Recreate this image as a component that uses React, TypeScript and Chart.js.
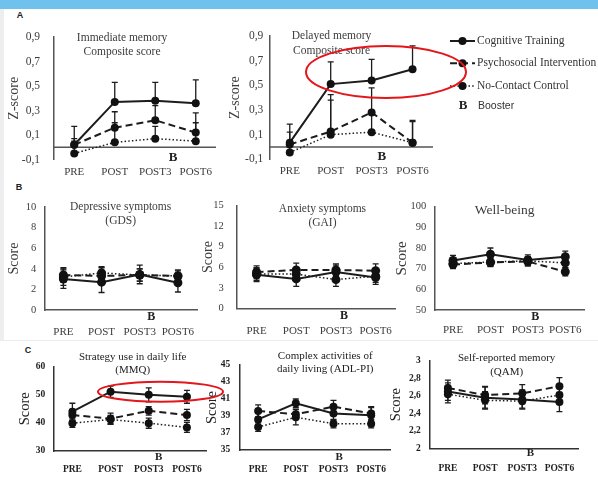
import React, { useEffect, useRef } from "react";
import { Chart, registerables } from "chart.js";

Chart.register(...registerables);

// ---------- shared labels ----------
const timepoints = ["PRE", "POST", "POST3", "POST6"];
const groupNames = ["Cognitive Training", "Psychosocial Intervention", "No-Contact Control"];
const boosterMark = "B";
const boosterLabel = "Booster";

// ---------- A: Immediate memory composite (z-score) ----------
const immCT = [0.02, 0.37, 0.38, 0.36];
const immCTErr = [0.15, 0.16, 0.15, 0.19];
const immPI = [0.02, 0.16, 0.22, 0.12];
const immPIErr = [0.05, 0.13, 0.12, 0.16];
const immNC = [-0.05, 0.04, 0.07, 0.05];
const immNCErr = [0.1, 0.16, 0.1, 0.15];

// ---------- A: Delayed memory composite (z-score) ----------
const delCT = [0.035, 0.51, 0.54, 0.63];
const delCTErr = [0.15, 0.18, 0.17, 0.19];
const delPI = [0.02, 0.125, 0.28, 0.035];
const delPIErr = [0.1, 0.3, 0.2, 0.18];
const delNC = [-0.045, 0.1, 0.12, 0.035];
const delNCErr = [0.06, 0.28, 0.15, 0.17];

// ---------- B: Depressive symptoms (GDS) ----------
const gdsCT = [3.0, 2.7, 3.45, 2.65];
const gdsCTErr = [0.9, 1.0, 0.9, 0.9];
const gdsPI = [3.4, 3.3, 3.4, 3.3];
const gdsPIErr = [0.7, 0.8, 0.6, 0.6];
const gdsNC = [3.2, 3.6, 3.4, 3.3];
const gdsNCErr = [0.8, 0.6, 0.6, 0.5];

// ---------- B: Anxiety symptoms (GAI) ----------
const gaiCT = [4.9, 4.3, 5.3, 4.5];
const gaiCTErr = [1.0, 1.1, 1.0, 1.0];
const gaiPI = [5.3, 5.6, 5.6, 5.5];
const gaiPIErr = [0.9, 1.0, 0.9, 1.0];
const gaiNC = [5.0, 5.0, 4.2, 4.7];
const gaiNCErr = [0.9, 0.9, 1.0, 0.9];

// ---------- B: Well-being ----------
const wbCT = [74, 77, 74.2, 75.8];
const wbCTErr = [2.4, 3.0, 2.5, 2.7];
const wbPI = [72, 73, 73.5, 68.5];
const wbPIErr = [2.0, 2.0, 2.2, 2.0];
const wbNC = [72.5, 73.2, 73.8, 72.8];
const wbNCErr = [2.0, 2.0, 2.0, 2.2];

// ---------- C: Strategy use (MMQ) ----------
const mmqCT = [44, 51.1, 50, 49.3];
const mmqCTErr = [3, 2, 2.5, 2.3];
const mmqPI = [42.8, 41.5, 44.3, 42.8];
const mmqPIErr = [2, 2, 1.5, 2];
const mmqNC = [39.9, 41.2, 39.9, 38.4];
const mmqNCErr = [1.5, 1.5, 1.8, 1.8];

// ---------- C: Complex activities of daily living (ADL-PI) ----------
const adlCT = [38.6, 40.5, 39.3, 39.1];
const adlCTErr = [0.9, 0.5, 0.8, 0.9];
const adlPI = [39.6, 39.2, 40.1, 39.3];
const adlPIErr = [0.7, 0.6, 0.75, 0.8];
const adlNC = [37.7, 38.85, 38.1, 38.1];
const adlNCErr = [0.5, 0.9, 0.5, 0.5];

// ---------- C: Self-reported memory (QAM) ----------
const qamCT = [2.65, 2.58, 2.56, 2.53];
const qamCTErr = [0.1, 0.12, 0.11, 0.11];
const qamPI = [2.69, 2.61, 2.63, 2.71];
const qamPIErr = [0.09, 0.1, 0.1, 0.1];
const qamNC = [2.62, 2.55, 2.54, 2.61];
const qamNCErr = [0.1, 0.1, 0.08, 0.1];

// ---------- styling ----------
const SERIF = "'Liberation Serif', 'Times New Roman', serif";
const SANS = "'Liberation Sans', Arial, sans-serif";
const LINE_COLOR = "#1c1c1c";

const seriesStyles = [
  { borderWidth: 2, borderDash: [] as number[] },
  { borderWidth: 2, borderDash: [7, 4] },
  { borderWidth: 1.5, borderDash: [1.5, 2.2] },
];

type Box = { l: number; t: number; r: number; b: number };
type Panel = {
  key: string;
  canvas: Box;
  area: Box;
  yMin: number;
  yMax: number;
  yStep: number;
  yTitle: string;
  yTitleSize: number;
  yTickSize: number;
  yPad: number;
  xTickSize: number;
  xPad: number;
  bold: boolean;
  textColor: string;
  axisColor: string;
  title: string[];
  titleSize: number;
  titleFrac: number;
  titleDy: number[];
  series: number[][];
  errors: number[][];
  errUp: boolean;
  zeroLine: boolean;
  boosterFrac: number;
  boosterDy: number;
  boosterSize: number;
  pointRadius: number;
  legend?: boolean;
};

const panels: Panel[] = [
  {
    key: "imm",
    canvas: { l: 0, t: 25, r: 222, b: 185 },
    area: { l: 54, t: 37, r: 216, b: 159.5 },
    yMin: -0.1, yMax: 0.9, yStep: 0.2,
    yTitle: "Z-score", yTitleSize: 14, yTickSize: 11.5, yPad: 14,
    xTickSize: 11, xPad: 6, bold: false,
    textColor: "#3c3c3c", axisColor: "#555",
    title: ["Immediate memory", "Composite score"], titleSize: 11.5, titleFrac: 0.42, titleDy: [1, 15],
    series: [immCT, immPI, immNC], errors: [immCTErr, immPIErr, immNCErr],
    errUp: true, zeroLine: true,
    boosterFrac: 0.44, boosterDy: 10, boosterSize: 13, pointRadius: 4,
  },
  {
    key: "del",
    canvas: { l: 221, t: 25, r: 598, b: 185 },
    area: { l: 269.3, t: 36, r: 433, b: 159.3 },
    yMin: -0.1, yMax: 0.9, yStep: 0.2,
    yTitle: "Z-score", yTitleSize: 14, yTickSize: 11.5, yPad: 6,
    xTickSize: 11, xPad: 5, bold: false,
    textColor: "#3c3c3c", axisColor: "#555",
    title: ["Delayed memory", "Composite score"], titleSize: 11.5, titleFrac: 0.38, titleDy: [0, 15],
    series: [delCT, delPI, delNC], errors: [delCTErr, delPIErr, delNCErr],
    errUp: true, zeroLine: true,
    boosterFrac: 0.25, boosterDy: 10, boosterSize: 13, pointRadius: 4,
    legend: true,
  },
  {
    key: "gds",
    canvas: { l: 0, t: 195, r: 203, b: 342 },
    area: { l: 44.3, t: 207, r: 197, b: 310 },
    yMin: 0, yMax: 10, yStep: 2,
    yTitle: "Score", yTitleSize: 14, yTickSize: 10.5, yPad: 8,
    xTickSize: 11, xPad: 15.4, bold: false,
    textColor: "#3c3c3c", axisColor: "#555",
    title: ["Depressive symptoms", "(GDS)"], titleSize: 11.5, titleFrac: 0.5, titleDy: [0, 13.5],
    series: [gdsCT, gdsPI, gdsNC], errors: [gdsCTErr, gdsPIErr, gdsNCErr],
    errUp: false, zeroLine: false,
    boosterFrac: 0.3, boosterDy: 7, boosterSize: 12, pointRadius: 4.5,
  },
  {
    key: "gai",
    canvas: { l: 194, t: 195, r: 400, b: 342 },
    area: { l: 236.7, t: 205.7, r: 396, b: 308.3 },
    yMin: 0, yMax: 15, yStep: 3,
    yTitle: "Score", yTitleSize: 14, yTickSize: 10.5, yPad: 13,
    xTickSize: 11, xPad: 16, bold: false,
    textColor: "#3c3c3c", axisColor: "#555",
    title: ["Anxiety symptoms", "(GAI)"], titleSize: 11.5, titleFrac: 0.54, titleDy: [3.5, 17],
    series: [gaiCT, gaiPI, gaiNC], errors: [gaiCTErr, gaiPIErr, gaiNCErr],
    errUp: false, zeroLine: false,
    boosterFrac: 0.2, boosterDy: 8, boosterSize: 12, pointRadius: 4.5,
  },
  {
    key: "wb",
    canvas: { l: 387, t: 195, r: 592, b: 342 },
    area: { l: 434.3, t: 206.7, r: 584, b: 310 },
    yMin: 50, yMax: 100, yStep: 10,
    yTitle: "Score", yTitleSize: 15, yTickSize: 10.5, yPad: 8,
    xTickSize: 11, xPad: 13.4, bold: false,
    textColor: "#3c3c3c", axisColor: "#555",
    title: ["Well-being"], titleSize: 13.5, titleFrac: 0.47, titleDy: [3.5],
    series: [wbCT, wbPI, wbNC], errors: [wbCTErr, wbPIErr, wbNCErr],
    errUp: false, zeroLine: false,
    boosterFrac: 0.2, boosterDy: 7, boosterSize: 12, pointRadius: 4.5,
  },
  {
    key: "mmq",
    canvas: { l: 10, t: 347, r: 210, b: 477 },
    area: { l: 53.3, t: 366.7, r: 206, b: 451 },
    yMin: 30, yMax: 60, yStep: 5,
    yTitle: "Score", yTitleSize: 14.5, yTickSize: 9.5, yPad: 8,
    xTickSize: 9.5, xPad: 13.3, bold: true,
    textColor: "#222", axisColor: "#333",
    title: ["Strategy use in daily life", "(MMQ)"], titleSize: 11, titleFrac: 0.52, titleDy: [-10, 3.3],
    series: [mmqCT, mmqPI, mmqNC], errors: [mmqCTErr, mmqPIErr, mmqNCErr],
    errUp: false, zeroLine: false,
    boosterFrac: 0.26, boosterDy: 6, boosterSize: 11, pointRadius: 4,
  },
  {
    key: "adl",
    canvas: { l: 197, t: 347, r: 394, b: 477 },
    area: { l: 239.3, t: 365, r: 390, b: 450 },
    yMin: 35, yMax: 45, yStep: 2,
    yTitle: "Score", yTitleSize: 14.5, yTickSize: 9.5, yPad: 9,
    xTickSize: 9.5, xPad: 13.6, bold: true,
    textColor: "#222", axisColor: "#333",
    title: ["Complex activities of", "daily living (ADL-PI)"], titleSize: 11, titleFrac: 0.57, titleDy: [-9.3, 4.3],
    series: [adlCT, adlPI, adlNC], errors: [adlCTErr, adlPIErr, adlNCErr],
    errUp: false, zeroLine: false,
    boosterFrac: 0.15, boosterDy: 7, boosterSize: 11, pointRadius: 4,
  },
  {
    key: "qam",
    canvas: { l: 381, t: 347, r: 586, b: 477 },
    area: { l: 429.3, t: 361, r: 578, b: 448.3 },
    yMin: 2, yMax: 3, yStep: 0.2,
    yTitle: "Score", yTitleSize: 14.5, yTickSize: 9.5, yPad: 8.5,
    xTickSize: 9.5, xPad: 15, bold: true,
    textColor: "#222", axisColor: "#333",
    title: ["Self-reported memory", "(QAM)"], titleSize: 11, titleFrac: 0.52, titleDy: [-2.7, 10.7],
    series: [qamCT, qamPI, qamNC], errors: [qamCTErr, qamPIErr, qamNCErr],
    errUp: false, zeroLine: false,
    boosterFrac: 0.22, boosterDy: 5, boosterSize: 11, pointRadius: 4,
  },
];

const fmt = (v: number) =>
  Number.isInteger(v) ? String(v) : v.toFixed(1).replace(".", ",");

function decorPlugin(p: Panel) {
  return {
    id: "decor_" + p.key,
    beforeDatasetsDraw(chart: any) {
      const { ctx, chartArea } = chart;
      const xs = chart.scales.x;
      const ys = chart.scales.y;
      ctx.save();
      if (p.zeroLine) {
        const yz = ys.getPixelForValue(0);
        ctx.strokeStyle = p.axisColor;
        ctx.lineWidth = 1.5;
        ctx.beginPath();
        ctx.moveTo(chartArea.left, yz);
        ctx.lineTo(chartArea.right, yz);
        ctx.stroke();
      }
      ctx.strokeStyle = LINE_COLOR;
      ctx.lineWidth = 1.3;
      ctx.setLineDash([]);
      p.series.forEach((vals, si) => {
        const errs = p.errors[si];
        vals.forEach((v, i) => {
          const px = xs.getPixelForValue(i);
          const top = ys.getPixelForValue(v + errs[i]);
          const bot = ys.getPixelForValue(p.errUp ? v : v - errs[i]);
          ctx.beginPath();
          ctx.moveTo(px, top);
          ctx.lineTo(px, bot);
          ctx.moveTo(px - 3, top);
          ctx.lineTo(px + 3, top);
          if (!p.errUp) {
            ctx.moveTo(px - 3, bot);
            ctx.lineTo(px + 3, bot);
          }
          ctx.stroke();
        });
      });
      ctx.restore();
    },
    afterDraw(chart: any) {
      const { ctx, chartArea } = chart;
      const xs = chart.scales.x;
      const ys = chart.scales.y;
      ctx.save();
      // panel title inside the plot
      ctx.fillStyle = p.textColor;
      ctx.textAlign = "center";
      ctx.textBaseline = "middle";
      ctx.font = `${p.titleSize}px ${SERIF}`;
      const tx = chartArea.left + p.titleFrac * (chartArea.right - chartArea.left);
      p.title.forEach((line, i) => {
        ctx.fillText(line, tx, chartArea.top + p.titleDy[i]);
      });
      // booster mark
      const x3 = xs.getPixelForValue(2);
      const x4 = xs.getPixelForValue(3);
      const baseY = p.zeroLine ? ys.getPixelForValue(0) : chartArea.bottom;
      ctx.font = `bold ${p.boosterSize}px ${SERIF}`;
      ctx.fillStyle = "#222";
      ctx.fillText(boosterMark, x3 + p.boosterFrac * (x4 - x3), baseY + p.boosterDy);

      // legend
      if (p.legend) {
        const ox = p.canvas.l;
        const oy = p.canvas.t;
        const rows = [41, 63.3, 86];
        const x1 = 450 - ox;
        const x2 = 475 - ox;
        groupNames.forEach((name, i) => {
          const y = rows[i] - oy;
          const st = seriesStyles[i];
          ctx.strokeStyle = LINE_COLOR;
          ctx.lineWidth = st.borderWidth;
          ctx.setLineDash(st.borderDash);
          ctx.beginPath();
          ctx.moveTo(x1, y);
          ctx.lineTo(x2, y);
          ctx.stroke();
          ctx.setLineDash([]);
          ctx.fillStyle = "#111";
          ctx.beginPath();
          ctx.arc((x1 + x2) / 2, y, 4, 0, Math.PI * 2);
          ctx.fill();
          ctx.fillStyle = "#333";
          ctx.textAlign = "left";
          ctx.font = `11.5px ${SERIF}`;
          ctx.fillText(name, x2 + 2, y);
        });
        const by = 106 - oy;
        ctx.textAlign = "center";
        ctx.font = `bold 13px ${SERIF}`;
        ctx.fillStyle = "#222";
        ctx.fillText(boosterMark, 463 - ox, by);
        ctx.textAlign = "left";
        ctx.font = `10.5px ${SANS}`;
        ctx.fillStyle = "#333";
        ctx.fillText(boosterLabel, 478 - ox, by);
      }
      ctx.restore();
    },
  };
}

function buildConfig(p: Panel): any {
  const weight = p.bold ? "bold" : "normal";
  return {
    type: "line",
    data: {
      labels: timepoints,
      datasets: p.series.map((vals, i) => ({
        label: groupNames[i],
        data: vals,
        borderColor: LINE_COLOR,
        borderWidth: seriesStyles[i].borderWidth,
        borderDash: seriesStyles[i].borderDash,
        backgroundColor: "#111",
        pointBackgroundColor: "#111",
        pointBorderColor: "#111",
        pointBorderWidth: 0,
        pointRadius: p.pointRadius,
        tension: 0,
        fill: false,
        clip: false,
      })),
    },
    options: {
      animation: false,
      responsive: false,
      events: [],
      layout: {
        padding: {
          top: p.area.t - p.canvas.t,
          right: p.canvas.r - p.area.r,
          bottom: 0,
          left: 0,
        },
      },
      plugins: {
        legend: { display: false },
        tooltip: { enabled: false },
        title: { display: false },
      },
      scales: {
        x: {
          type: "category",
          offset: true,
          // the gap between axis and labels is given as an (invisible) tick length,
          // so it does not push the plot area inward
          grid: { display: false, drawTicks: true, tickLength: p.xPad },
          border: { display: !p.zeroLine, color: p.axisColor, width: 1.5 },
          ticks: {
            autoSkip: false,
            maxRotation: 0,
            minRotation: 0,
            padding: 0,
            color: p.textColor,
            font: { family: SERIF, size: p.xTickSize, weight },
          },
          afterFit: (s: any) => {
            s.height = p.canvas.b - p.area.b;
          },
        },
        y: {
          type: "linear",
          min: p.yMin,
          max: p.yMax,
          grid: { display: false, drawTicks: true, tickLength: p.yPad },
          border: { display: true, color: p.axisColor, width: 1.5 },
          ticks: {
            stepSize: p.yStep,
            padding: 0,
            color: p.textColor,
            font: { family: SERIF, size: p.yTickSize, weight },
            callback: (v: any) => fmt(Number(v)),
          },
          title: {
            display: true,
            text: p.yTitle,
            color: p.textColor,
            font: { family: SERIF, size: p.yTitleSize },
            padding: { top: 6, bottom: 0 },
          },
          afterFit: (s: any) => {
            s.width = p.area.l - p.canvas.l;
          },
        },
      },
    },
    plugins: [decorPlugin(p)],
  };
}

function PanelChart({ p }: { p: Panel }) {
  const ref = useRef<HTMLCanvasElement>(null);
  useEffect(() => {
    const canvas = ref.current;
    if (!canvas) return;
    const chart = new Chart(canvas, buildConfig(p));
    return () => chart.destroy();
  }, [p]);
  const w = p.canvas.r - p.canvas.l;
  const h = p.canvas.b - p.canvas.t;
  return (
    <canvas
      ref={ref}
      width={w}
      height={h}
      style={{ position: "absolute", left: p.canvas.l, top: p.canvas.t, width: w, height: h }}
    />
  );
}

const letterStyle: React.CSSProperties = {
  position: "absolute",
  font: `bold 9px ${SANS}`,
  color: "#222",
  transform: "translate(-50%, -50%)",
  lineHeight: "10px",
};

export default function App() {
  useEffect(() => {
    document.body.style.margin = "0";
  }, []);
  return (
    <div
      style={{
        position: "relative",
        width: 598,
        height: 477,
        overflow: "hidden",
        background: "#fff",
      }}
    >
      <div style={{ position: "absolute", left: 0, top: 0, width: 598, height: 9, background: "#70c2ee" }} />
      <div style={{ position: "absolute", left: 0, top: 9, width: 4, height: 331, background: "#eeeeee" }} />
      <div style={{ position: "absolute", left: 0, top: 340, width: 598, height: 1, background: "#ececec" }} />
      <div style={{ ...letterStyle, left: 20, top: 15 }}>A</div>
      <div style={{ ...letterStyle, left: 19, top: 187 }}>B</div>
      <div style={{ ...letterStyle, left: 28, top: 350 }}>C</div>
      {panels.map((p) => (
        <PanelChart key={p.key} p={p} />
      ))}
      <svg
        width={598}
        height={477}
        style={{ position: "absolute", left: 0, top: 0, pointerEvents: "none" }}
      >
        <ellipse cx={386} cy={72} rx={80} ry={26} fill="none" stroke="#e3161b" strokeWidth={2} />
        <ellipse cx={160.5} cy={391.7} rx={62.5} ry={10} fill="none" stroke="#e3161b" strokeWidth={2} />
      </svg>
    </div>
  );
}
